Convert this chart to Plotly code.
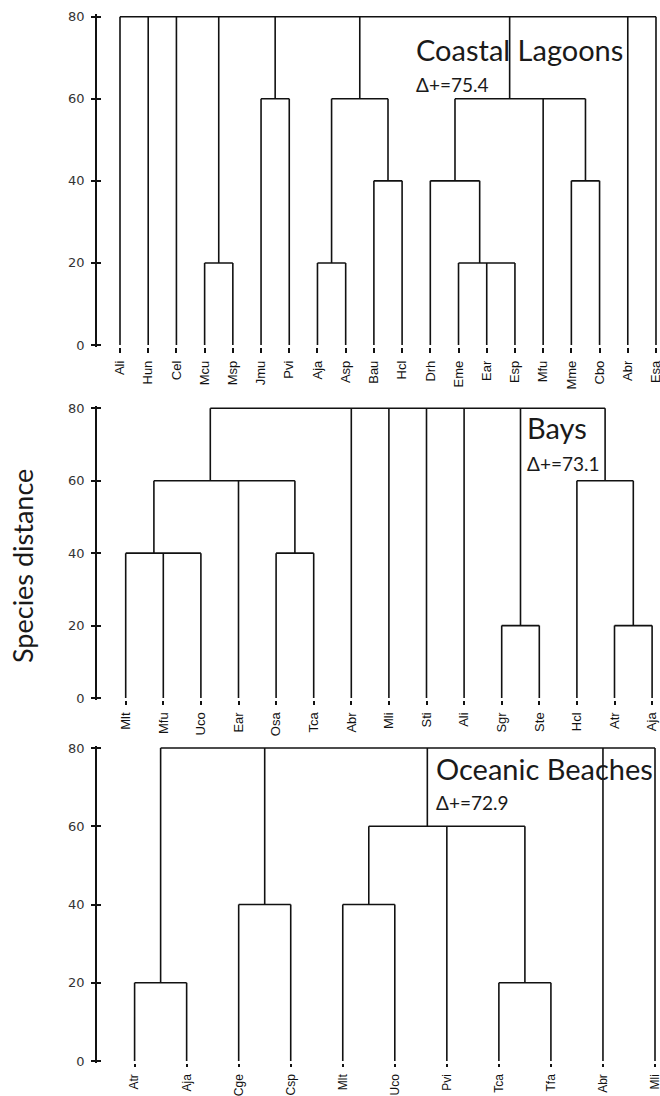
import plotly.graph_objects as go

# ---------------- data ----------------
lagoon_leaves = ["Ali", "Hun", "Cel", "Mcu", "Msp", "Jmu", "Pvi", "Aja", "Asp", "Bau",
                 "Hcl", "Drh", "Eme", "Ear", "Esp", "Mfu", "Mme", "Cbo", "Abr", "Esa"]
# internal nodes: (id, merge distance, children)
lagoon_nodes = [
    ("L1", 20, ["Mcu", "Msp"]),
    ("L2", 60, ["Jmu", "Pvi"]),
    ("L3", 20, ["Aja", "Asp"]),
    ("L4", 40, ["Bau", "Hcl"]),
    ("L5", 60, ["L3", "L4"]),
    ("L6", 20, ["Eme", "Ear", "Esp"]),
    ("L7", 40, ["Drh", "L6"]),
    ("L8", 40, ["Mme", "Cbo"]),
    ("L9", 60, ["L7", "Mfu", "L8"]),
    ("L0", 80, ["Ali", "Hun", "Cel", "L1", "L2", "L5", "L9", "Abr", "Esa"]),
]

bay_leaves = ["Mlt", "Mfu", "Uco", "Ear", "Osa", "Tca", "Abr", "Mli", "Sti", "Ali",
              "Sgr", "Ste", "Hcl", "Atr", "Aja"]
bay_nodes = [
    ("B1", 40, ["Mlt", "Mfu", "Uco"]),
    ("B2", 40, ["Osa", "Tca"]),
    ("B3", 60, ["B1", "Ear", "B2"]),
    ("B4", 20, ["Sgr", "Ste"]),
    ("B5", 20, ["Atr", "Aja"]),
    ("B6", 60, ["Hcl", "B5"]),
    ("B0", 80, ["B3", "Abr", "Mli", "Sti", "Ali", "B4", "B6"]),
]

beach_leaves = ["Atr", "Aja", "Cge", "Csp", "Mlt", "Uco", "Pvi", "Tca", "Tfa", "Abr", "Mli"]
beach_nodes = [
    ("O1", 20, ["Atr", "Aja"]),
    ("O2", 40, ["Cge", "Csp"]),
    ("O3", 40, ["Mlt", "Uco"]),
    ("O4", 20, ["Tca", "Tfa"]),
    ("O5", 60, ["O3", "Pvi", "O4"]),
    ("O0", 80, ["O1", "O2", "O5", "Abr", "Mli"]),
]

panel_titles = ["Coastal Lagoons", "Bays", "Oceanic Beaches"]
delta_plus = [75.4, 73.1, 72.9]
y_ticks = [0, 20, 40, 60, 80]

# ---------------- layout helpers ----------------
W, H = 660, 1096
ML = 97
PLOT_W = W - ML

# pixel geometry of each panel: (first leaf px, leaf spacing px, px of y=80, px of y=0)
geom = [
    (120.0, 28.21, 16.7, 345.0),
    (125.7, 37.6, 408.3, 698.0),
    (134.6, 52.04, 748.0, 1061.0),
]
# leaf label font size and leaf stub length per panel
leaf_font = [13, 13, 12]
leaf_stub = [5, 4, 3]
# title placement (in px): left x, title centre y, delta centre y
title_px = [
    (414, 50, 85),
    (525, 428, 464),
    (434, 768, 802),
]
YPAD = 0.6
YR = [-YPAD, 80 + YPAD]


def dendro_lines(leaves, nodes):
    pos = {name: float(i) for i, name in enumerate(leaves)}
    hgt = {name: 0.0 for name in leaves}
    xs, ys = [], []
    for nid, h, children in nodes:
        cx = [pos[c] for c in children]
        # connector position: right-nested pairwise midpoints
        x = cx[-1]
        for v in reversed(cx[:-1]):
            x = (v + x) / 2.0
        pos[nid] = x
        hgt[nid] = h
        xs += [cx[0], cx[-1], None]
        ys += [h, h, None]
        for c in children:
            xs += [pos[c], pos[c], None]
            ys += [hgt[c], h, None]
    return xs, ys


fig = go.Figure()
panels = [(lagoon_leaves, lagoon_nodes), (bay_leaves, bay_nodes), (beach_leaves, beach_nodes)]
LINE = dict(color="#111111", width=1.6)
annotations = []

for i, (leaves, nodes) in enumerate(panels):
    k = i + 1
    xa = "x" if k == 1 else f"x{k}"
    ya = "y" if k == 1 else f"y{k}"
    ov = f"y{k + 3}"
    p0, sp, y80, y0 = geom[i]
    xs, ys = dendro_lines(leaves, nodes)
    fig.add_trace(go.Scatter(x=xs, y=ys, mode="lines", line=LINE, xaxis=xa, yaxis=ya,
                             showlegend=False, hoverinfo="skip"))
    fig.add_trace(go.Scatter(x=[None], y=[None], mode="lines", xaxis=xa, yaxis=ov,
                             showlegend=False, hoverinfo="skip"))

    xr = [(ML - p0) / sp, (W - p0) / sp]

    def px(v):
        return y0 + (y80 - y0) * v / 80.0

    dom = [1 - px(YR[0]) / H, 1 - px(YR[1]) / H]

    xkey = "xaxis" if k == 1 else f"xaxis{k}"
    ykey = "yaxis" if k == 1 else f"yaxis{k}"
    fig.layout[xkey] = dict(
        domain=[0, 1], range=xr, anchor=ya, showgrid=False, zeroline=False, showline=False,
        tickmode="array", tickvals=list(range(len(leaves))), ticktext=leaves,
        tickangle=-90, ticks="outside", ticklen=leaf_stub[i], tickwidth=1.6, tickcolor="#111111",
        tickfont=dict(family="Liberation Sans, Arial", size=leaf_font[i], color="#111111"),
        ticklabelstandoff=2, ticklabeloverflow="allow",
        automargin=False, fixedrange=True,
    )
    fig.layout[ykey] = dict(
        domain=dom, range=YR, anchor=xa, showgrid=False, zeroline=False,
        showline=True, linecolor="#111111", linewidth=1.6,
        tickmode="array", tickvals=y_ticks, ticks="outside", ticklen=4, tickwidth=1.6,
        tickcolor="#111111", ticklabelstandoff=4,
        tickfont=dict(family="DejaVu Sans", size=13, color="#333333"),
        automargin=False, fixedrange=True,
    )
    fig.layout[f"yaxis{k + 3}"] = dict(
        overlaying=ya, anchor=xa, range=YR, domain=dom, side="left",
        showgrid=False, zeroline=False, showline=False, showticklabels=False,
        tickmode="array", tickvals=y_ticks, ticks="inside", ticklen=4, tickwidth=1.6,
        tickcolor="#111111", fixedrange=True,
    )

    tx, ty, dy = title_px[i]
    xt = (tx - p0) / sp

    def val(pix):
        return (y0 - pix) / (y0 - y80) * 80.0

    annotations.append(dict(x=xt, y=val(ty), xref=xa, yref=ya, text=panel_titles[i],
                            showarrow=False, xanchor="left", yanchor="middle",
                            font=dict(family="Lato", size=29, color="#1a1a1a")))
    annotations.append(dict(x=xt, y=val(dy), xref=xa, yref=ya, text=f"Δ+={delta_plus[i]}",
                            showarrow=False, xanchor="left", yanchor="middle",
                            font=dict(family="Lato", size=19, color="#1a1a1a")))

annotations.append(dict(x=(22 - ML) / PLOT_W, y=1 - 566 / H, xref="paper", yref="paper",
                        text="Species distance", textangle=-90, showarrow=False,
                        xanchor="center", yanchor="middle",
                        font=dict(family="Lato", size=27, color="#1a1a1a")))

fig.update_layout(
    width=W, height=H, margin=dict(l=ML, r=0, t=0, b=0),
    paper_bgcolor="white", plot_bgcolor="white",
    annotations=annotations, showlegend=False,
)

fig.write_html(
    "out.html",
    config={"displayModeBar": False},
    post_script="document.body.style.margin='0px';document.body.style.overflow='hidden';",
)
